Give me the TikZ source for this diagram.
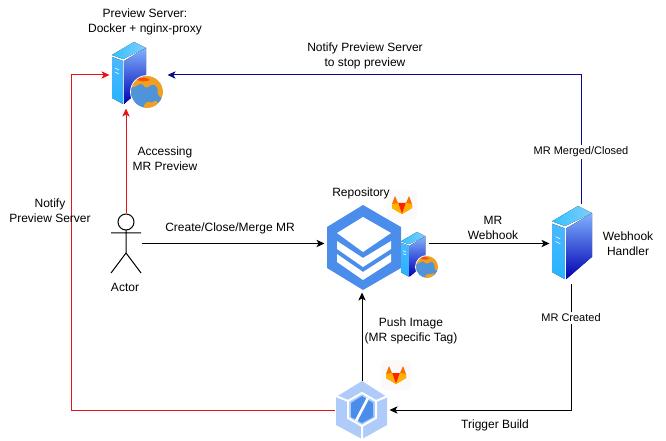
\documentclass[tikz,border=0pt]{standalone}
\usepackage{fontspec}
\setmainfont{Liberation Sans}
\usetikzlibrary{arrows.meta}
\definecolor{hexblue}{HTML}{4A8DEB}
\definecolor{buildlight}{HTML}{AECBFA}
\definecolor{notifyred}{HTML}{E8121A}
\definecolor{stopblue}{HTML}{0A0A8C}
\definecolor{seablue}{HTML}{4F93D8}
\definecolor{landorange}{HTML}{F0A020}
\tikzset{
  globepic/.pic={
    \begin{scope}
      \clip (0,0) circle (16);
      \fill[seablue] (-16,-16) rectangle (16,16);
      \fill[landorange] (-16,-16) -- (-16,-5) .. controls (-12,-3) and (-9,-9) .. (-5,-8) .. controls (-2,-7) and (-3,-3) .. (1,-5) .. controls (4,-7) and (7,-9) .. (10,-5) .. controls (12,-2) and (9,1) .. (12,4) .. controls (14,6) and (15,6) .. (16,6) -- (16,-16) -- cycle;
      \fill[landorange] (-3,16) .. controls (-4,12) and (0,9) .. (3,10) .. controls (5,12) and (7,8) .. (9,9) -- (16,16) -- cycle;
      \fill[orange!60!red] (-11,-13) .. controls (-7,-15) and (0,-15) .. (3,-12) .. controls (-1,-10) and (-7,-10) .. (-11,-13) -- cycle;
    \end{scope}
    \draw[white, line width=0.6pt] (0,0) circle (16.5);
  },
  serverpic/.pic={
    \fill[top color=cyan!60!blue!70, bottom color=blue!35!cyan!85] (0,15) -- (11,19) -- (11,62) -- (0,56) -- cycle;
    \fill[top color=blue!60!cyan!50, bottom color=blue!70!black] (12,19) -- (34,6) -- (34,43) -- (12,62) -- cycle;
    \fill[left color=blue!30!cyan!80, right color=cyan!60!blue!50] (0,13) -- (22,0) -- (34,6) -- (11,17) -- cycle;
    \draw[white, line width=0.4pt] (3,26) -- (7,28) (3,30) -- (7,32);
  },
  gitlabpic/.pic={
    \fill[black!2, rounded corners=3] (-15,-15) rectangle (15,15);
    \fill[orange!85!red] (-10,-1) -- (-7,-9) -- (-4,-2) -- (0,9) -- (-10,3) -- cycle;
    \fill[orange!85!red] (10,-1) -- (7,-9) -- (4,-2) -- (0,9) -- (10,3) -- cycle;
    \fill[red!75!orange] (-4,-2) -- (4,-2) -- (0,9) -- cycle;
    \fill[orange!60!yellow] (-10,-1) -- (-4,-2) -- (0,9) -- (-10,3) -- cycle;
    \fill[orange!60!yellow] (10,-1) -- (4,-2) -- (0,9) -- (10,3) -- cycle;
  }
}
\begin{document}
\begin{tikzpicture}[x=0.75pt, y=-0.75pt, >={Stealth[length=6pt,width=5.5pt,inset=1.5pt]}, line width=0.75pt,
    label/.style={font=\fontsize{9}{11.2}\selectfont, align=center, inner sep=1pt},
    smalllabel/.style={font=\fontsize{8.25}{10}\selectfont, fill=white, inner sep=1.5pt},
    iconbox/.style={inner sep=0pt}]
    \useasboundingbox (0,0) rectangle (666,441);

    % icon areas
    \node (preview) [iconbox, minimum width=42.75pt, minimum height=49.5pt] at (138.5,75) {};
    \node (actor) [iconbox, minimum width=22.5pt, minimum height=44.25pt] at (126,243.5) {};
    \node (repo) [iconbox, minimum width=77.25pt, minimum height=65.25pt] at (376.5,248.5) {};
    \node (webhook) [iconbox, minimum width=31.5pt, minimum height=59.25pt] at (571,243.5) {};
    \node (build) [iconbox, minimum width=40.5pt, minimum height=43.5pt] at (362,410) {};
    \coordinate (stopstart) at (581,204);
    \coordinate (notifybend) at (71,75);

    % preview server
    \pic at (112,42) {serverpic};
    \pic at (147,92) {globepic};

    % actor
    \draw (126,222) circle (8);
    \draw (126,230) -- (126,253) (111,233) -- (141,233) (111,273) -- (126,253) -- (141,273);

    % repository
    \fill[hexblue] (363,205) -- (401,227) -- (401,268) -- (363,290) -- (327,268) -- (327,227) -- cycle;
    \fill[white] (363,217) -- (391,233) -- (363,252) -- (337,233) -- cycle;
    \fill[white] (337,241) -- (363,258) -- (391,241) -- (391,249) -- (363,267) -- (337,249) -- cycle;
    \fill[white] (337,254) -- (363,272) -- (391,254) -- (391,262) -- (363,280) -- (337,262) -- cycle;
    \pic[scale=0.72] at (401,232) {serverpic};
    \pic[scale=0.7] at (427,267) {globepic};
    \pic at (402,205) {gitlabpic};

    % webhook handler
    \pic[scale=1.18] at (552,206) {serverpic};

    % build
    \fill[buildlight] (362,381) -- (387,397) -- (387,425) -- (362,439) -- (336,425) -- (336,397) -- cycle;
    \draw[white, line width=1.5pt] (362,393) -- (376,401) -- (376,418) -- (362,426) -- (348,418) -- (348,401) -- cycle;
    \draw[white, line width=1.5pt] (336,396) -- (348,401) (388,396) -- (376,401) (362,426) -- (362,440);
    \fill[hexblue] (362,396) -- (373,403) -- (373,417) -- (362,423) -- (351,417) -- (351,403) -- cycle;
    \draw[white, line width=2pt] (356,421) -- (368,398);
    \pic at (396,375) {gitlabpic};

    % connectors
    \draw[->, notifyred] (actor.north) -- (actor.north |- preview.south);
    \draw[->] (actor.east) -- (actor.east -| repo.west);
    \draw[->] (webhook.west -| repo.east) -- (webhook.west);
    \draw[->, stopblue] (stopstart) |- (preview.east);
    \draw[->] (webhook.south) |- (build.east);
    \draw[->] (build.north) -- (build.north |- repo.south);
    \draw[->, notifyred] (build.west) -| (notifybend) -- (preview.west);

    % texts
    \node (previewlabel) [label] at (145,22) {Preview Server:\\Docker + nginx-proxy};
    \node (stoplabel) [label] at (365,56) {Notify Preview Server\\to stop preview};
    \node (accesslabel) [label] at (165,158.5) {Accessing\\MR Preview};
    \node (notifylabel) [label] at (50,211) {Notify\\Preview Server};
    \node (mergelabel) [label] at (230,228) {Create/Close/Merge MR};
    \node (repolabel) [label] at (361,193) {Repository};
    \node (hooklabel) [label] at (493,228) {MR\\Webhook};
    \node (handlerlabel) [label] at (628,243.5) {Webhook\\Handler};
    \node (actorlabel) [label] at (125,287) {Actor};
    \node (pushlabel) [label] at (411,331) {Push Image\\(MR specific Tag)};
    \node (triggerlabel) [label] at (495,425) {Trigger Build};
    \node (mergedlabel) [smalllabel] at (581,152) {MR Merged/Closed};
    \node (createdlabel) [smalllabel] at (571,318) {MR Created};
\end{tikzpicture}
\end{document}
